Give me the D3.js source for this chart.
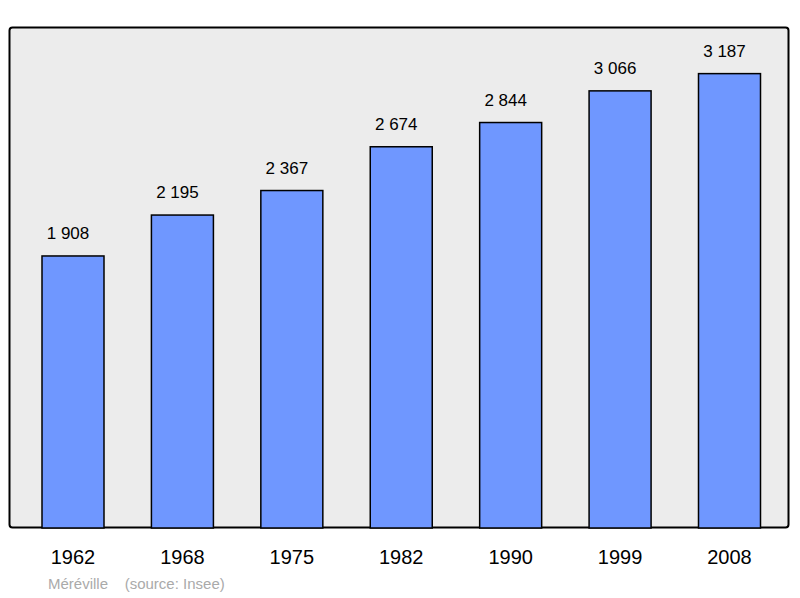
<!DOCTYPE html>
<html><head><meta charset="utf-8">
<script src="https://cdn.jsdelivr.net/npm/d3@7"></script>
<style>body{margin:0;background:#fff}</style>
</head><body>
<script>
const years = ['1962','1968','1975','1982','1990','1999','2008'];
const population = [1908, 2195, 2367, 2674, 2844, 3066, 3187];
const labels = ['1 908','2 195','2 367','2 674','2 844','3 066','3 187'];

const width = 800, height = 598;
const svg = d3.select('body').append('svg').attr('width', width).attr('height', height);

// frame
svg.append('rect').attr('x', 9.5).attr('y', 27.5).attr('width', 779).attr('height', 500)
  .attr('rx', 3).attr('fill', '#ececec').attr('stroke', '#000').attr('stroke-width', 2);

const x = d3.scalePoint().domain(years).range([73, 729.5]);
const y = d3.scaleLinear().domain([0, 3514]).range([528, 27]);
const bw = 62;

svg.selectAll('rect.bar').data(population).join('rect').attr('class', 'bar')
  .attr('x', (d, i) => x(years[i]) - bw / 2).attr('y', d => y(d))
  .attr('width', bw).attr('height', d => 528 - y(d))
  .attr('fill', '#6f97ff').attr('stroke', '#000').attr('stroke-width', 1.5);

svg.selectAll('text.val').data(population).join('text').attr('class', 'val')
  .attr('x', (d, i) => x(years[i]) - 5).attr('y', d => y(d) - 17)
  .attr('text-anchor', 'middle').attr('font-family', 'Liberation Sans, Arial, sans-serif')
  .attr('font-size', 17).text((d, i) => labels[i]);

svg.selectAll('text.year').data(years).join('text').attr('class', 'year')
  .attr('x', d => x(d)).attr('y', 564).attr('text-anchor', 'middle')
  .attr('font-family', 'Liberation Sans, Arial, sans-serif').attr('font-size', 20).text(d => d);

svg.append('text').attr('x', 48).attr('y', 589).attr('fill', '#aaa')
  .attr('font-family', 'Liberation Sans, Arial, sans-serif').attr('font-size', 15)
  .attr('xml:space', 'preserve').text('Méréville    (source: Insee)');
</script>
</body></html>
